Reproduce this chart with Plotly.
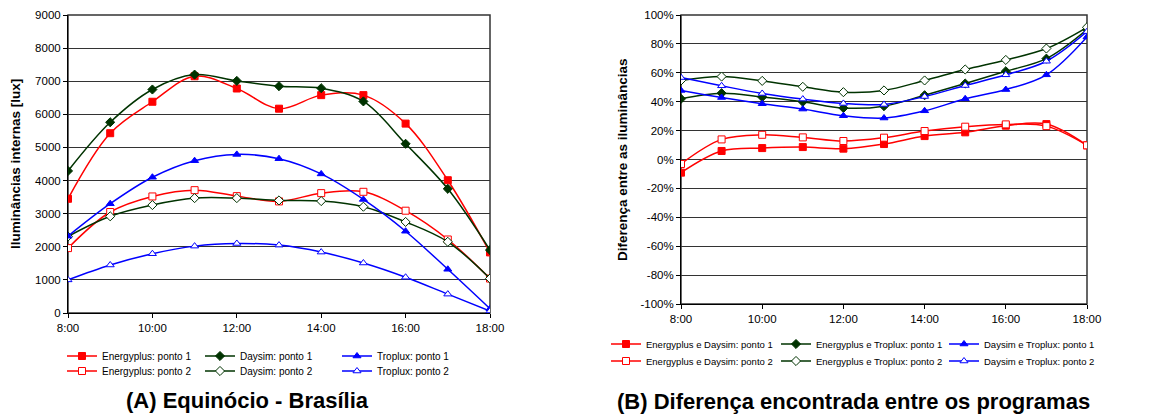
import plotly.graph_objects as go

hours = [8, 9, 10, 11, 12, 13, 14, 15, 16, 17, 18]
x_tickvals = [8, 10, 12, 14, 16, 18]
x_ticktext = ["8:00", "10:00", "12:00", "14:00", "16:00", "18:00"]

# (A) Internal illuminance [lux]
energyplus_p1 = [3450, 5430, 6380, 7150, 6780, 6170, 6580, 6580, 5720, 4010, 1830]
daysim_p1 = [4290, 5760, 6750, 7200, 7010, 6850, 6790, 6390, 5110, 3750, 1900]
troplux_p1 = [2320, 3300, 4100, 4600, 4790, 4660, 4200, 3430, 2470, 1320, 130]
energyplus_p2 = [1960, 3050, 3520, 3710, 3530, 3370, 3620, 3660, 3090, 2220, 1040]
daysim_p2 = [2310, 2920, 3260, 3470, 3470, 3400, 3380, 3210, 2750, 2150, 1040]
troplux_p2 = [1000, 1450, 1790, 2020, 2100, 2050, 1840, 1510, 1080, 570, 60]
lux_tickvals = [0, 1000, 2000, 3000, 4000, 5000, 6000, 7000, 8000, 9000]
lux_ticktext = ["0", "1000", "2000", "3000", "4000", "5000", "6000", "7000", "8000", "9000"]

# (B) Differences [%]
ep_ds_p1 = [-9.1, 5.9, 7.9, 8.6, 7.5, 10.7, 16.2, 18.8, 23.4, 24.5, 9.8]
ep_tp_p1 = [42.0, 45.9, 43.2, 39.9, 35.6, 36.9, 44.5, 52.6, 61.1, 69.8, 89.9]
ds_tp_p1 = [47.8, 42.9, 38.6, 34.9, 30.3, 28.7, 33.7, 42.0, 48.4, 58.6, 84.8]
ep_ds_p2 = [-3.1, 13.9, 17.1, 15.3, 12.8, 15.1, 19.7, 22.7, 24.3, 23.1, 9.8]
ep_tp_p2 = [54.7, 57.4, 54.4, 50.3, 46.6, 47.8, 54.7, 62.3, 68.9, 76.8, 91.5]
ds_tp_p2 = [56.7, 51.0, 45.7, 41.8, 38.8, 38.1, 43.6, 51.2, 58.6, 68.0, 88.5]
pct_tickvals = [-100, -80, -60, -40, -20, 0, 20, 40, 60, 80, 100]
pct_ticktext = ["-100%", "-80%", "-60%", "-40%", "-20%", "0%", "20%", "40%", "60%", "80%", "100%"]

RED = "#FF0000"
GREEN = "#003300"
BLUE = "#0000FF"
FONT = "Liberation Sans, Arial, sans-serif"
W, H = 1149, 414

fig = go.Figure()
legend_layout = {}
_n = [0]


def add(x, y, name, color, symbol, filled, xa, ya, lx, ly, fsize):
    _n[0] += 1
    lid = "legend" if _n[0] == 1 else f"legend{_n[0]}"
    fig.add_trace(go.Scatter(
        x=x, y=y, name=name, mode="lines+markers",
        line=dict(color=color, width=1.5, shape="spline", smoothing=1.0),
        marker=dict(symbol=symbol, size=7,
                    color=color if filled else "white",
                    line=dict(color=color, width=1)),
        xaxis=xa, yaxis=ya, legend=lid,
    ))
    legend_layout[lid] = dict(
        font=dict(family=FONT, size=fsize, color="black"), bgcolor="rgba(0,0,0,0)",
        xanchor="left", yanchor="middle", itemwidth=30, borderwidth=0,
        x=(lx - 40) / W, y=1 - ly / H,
    )


# Left chart (legend text x, row y)
add(hours, energyplus_p1, "Energyplus: ponto 1", RED, "square", True, "x", "y", 102, 356, 10)
add(hours, energyplus_p2, "Energyplus: ponto 2", RED, "square", False, "x", "y", 102, 371, 10)
add(hours, daysim_p1, "Daysim: ponto 1", GREEN, "diamond", True, "x", "y", 240, 356, 10)
add(hours, daysim_p2, "Daysim: ponto 2", GREEN, "diamond", False, "x", "y", 240, 371, 10)
add(hours, troplux_p1, "Troplux: ponto 1", BLUE, "triangle-up", True, "x", "y", 377, 356, 10)
add(hours, troplux_p2, "Troplux: ponto 2", BLUE, "triangle-up", False, "x", "y", 377, 371, 10)

# Right chart
add(hours, ep_ds_p1, "Energyplus e Daysim: ponto 1", RED, "square", True, "x2", "y2", 646, 344, 9.5)
add(hours, ep_ds_p2, "Energyplus e Daysim: ponto 2", RED, "square", False, "x2", "y2", 646, 361, 9.5)
add(hours, ep_tp_p1, "Energyplus e Troplux: ponto 1", GREEN, "diamond", True, "x2", "y2", 816, 344, 9.5)
add(hours, ep_tp_p2, "Energyplus e Troplux: ponto 2", GREEN, "diamond", False, "x2", "y2", 816, 361, 9.5)
add(hours, ds_tp_p1, "Daysim e Troplux: ponto 1", BLUE, "triangle-up", True, "x2", "y2", 984, 344, 9.5)
add(hours, ds_tp_p2, "Daysim e Troplux: ponto 2", BLUE, "triangle-up", False, "x2", "y2", 984, 361, 9.5)

axis_common = dict(showline=True, linecolor="black", linewidth=1, mirror=False,
                   ticks="outside", ticklen=4, tickcolor="black", automargin=False,
                   tickfont=dict(family=FONT, size=11.5, color="black"), zeroline=False)

xaxis_common = dict(axis_common, range=[8, 18], tickvals=x_tickvals, ticktext=x_ticktext,
                    showgrid=False)

left_top = 1 - 15 / H
left_bot = 1 - 313 / H
right_bot = 1 - 304 / H

fig.update_layout(
    width=W, height=H,
    margin=dict(l=0, r=0, t=0, b=0, autoexpand=False),
    paper_bgcolor="white", plot_bgcolor="white",
    font=dict(family=FONT, color="black"),
    xaxis=dict(xaxis_common, domain=[68 / W, 490 / W], anchor="y"),
    yaxis=dict(axis_common, domain=[left_bot, left_top], range=[0, 9000],
               tickvals=lux_tickvals, ticktext=lux_ticktext, showgrid=True,
               gridcolor="#333333", gridwidth=1, anchor="x"),
    xaxis2=dict(xaxis_common, domain=[681 / W, 1087 / W], anchor="y2"),
    yaxis2=dict(axis_common, domain=[right_bot, left_top], range=[-100, 100],
                tickvals=pct_tickvals, ticktext=pct_ticktext, showgrid=True,
                gridcolor="#333333", gridwidth=1, anchor="x2"),
    showlegend=True,
    **legend_layout,
)

# Plot-area borders, as in the original spreadsheet charts
for xa, ya in (("x", "y"), ("x2", "y2")):
    fig.add_shape(type="rect", xref=f"{xa} domain", yref=f"{ya} domain",
                  x0=0, x1=1, y0=0, y1=1, line=dict(color="#333333", width=1.5),
                  layer="below")

fig.add_annotation(text="<b>Iluminâncias internas [lux]</b>", xref="paper", yref="paper",
                   x=15 / W, y=1 - 164 / H, textangle=-90, showarrow=False,
                   font=dict(family=FONT, size=13.5, color="black"),
                   xanchor="center", yanchor="middle")
fig.add_annotation(text="<b>Diferença entre as iluminâncias</b>", xref="paper", yref="paper",
                   x=623 / W, y=1 - 160 / H, textangle=-90, showarrow=False,
                   font=dict(family=FONT, size=13.5, color="black"),
                   xanchor="center", yanchor="middle")
fig.add_annotation(text="<b>(A) Equinócio - Brasília</b>", xref="paper", yref="paper",
                   x=247 / W, y=1 - 400 / H, showarrow=False,
                   font=dict(family=FONT, size=22, color="black"),
                   xanchor="center", yanchor="middle")
fig.add_annotation(text="<b>(B) Diferença encontrada entre os programas</b>", xref="paper",
                   yref="paper", x=853 / W, y=1 - 401 / H, showarrow=False,
                   font=dict(family=FONT, size=22, color="black"),
                   xanchor="center", yanchor="middle")

fig.write_html("out.html", config={"displayModeBar": False},
               post_script="document.body.style.margin='0';")
